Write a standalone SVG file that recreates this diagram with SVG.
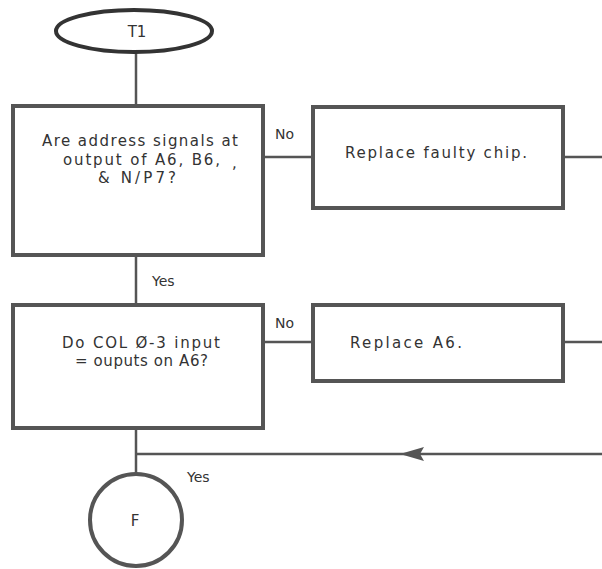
<svg xmlns="http://www.w3.org/2000/svg" width="602" height="569" viewBox="0 0 602 569">
<style>
.box{fill:#fff;stroke:#555;stroke-width:4}
.ln{fill:none;stroke:#555;stroke-width:2.5}
.t{font-family:"DejaVu Sans","Liberation Sans",sans-serif;font-size:15px;fill:#333}
.l{font-size:14px}
.c{text-anchor:middle}
</style>
<g id="connectors">
<line class="ln" x1="136" y1="53" x2="136" y2="106"/>
<line class="ln" x1="136" y1="255" x2="136" y2="305"/>
<line class="ln" x1="263" y1="157" x2="313" y2="157"/>
<line class="ln" x1="563" y1="157" x2="602" y2="157"/>
<line class="ln" x1="263" y1="342" x2="313" y2="342"/>
<line class="ln" x1="563" y1="342" x2="602" y2="342"/>
<line class="ln" x1="136" y1="428" x2="136" y2="474"/>
<line class="ln" x1="602" y1="454" x2="136" y2="454"/>
<path d="M424,447 L400,454 L424,461 L420,454 Z" fill="#555"/>
<text class="t l" x="275" y="139">No</text>
<text class="t l" x="152" y="286">Yes</text>
<text class="t l" x="275" y="328">No</text>
<text class="t l" x="187" y="482">Yes</text>
</g>
<g id="T1">
<ellipse cx="134" cy="31" rx="78" ry="21" fill="#fff" stroke="#333" stroke-width="4"/>
<text class="t c" x="137" y="37" font-size="13">T1</text>
</g>
<g id="q1">
<rect class="box" x="13" y="106" width="250" height="149"/>
<text class="t" x="42" y="146" textLength="196" lengthAdjust="spacing">Are address signals at</text>
<text class="t" x="63" y="165" textLength="157" lengthAdjust="spacing">output of A6, B6,</text>
<text class="t" x="232" y="168" font-size="11">,</text>
<text class="t" x="98" y="183" textLength="78" lengthAdjust="spacing">&amp; N/P7?</text>
</g>
<g id="r1">
<rect class="box" x="313" y="107" width="250" height="101"/>
<text class="t" x="345" y="158" font-size="16" textLength="182" lengthAdjust="spacing">Replace faulty chip.</text>
</g>
<g id="q2">
<rect class="box" x="13" y="305" width="250" height="123"/>
<text class="t" x="62" y="348" font-size="14" textLength="158" lengthAdjust="spacing">Do COL Ø-3 input</text>
<text class="t" x="75" y="366" font-size="14" textLength="133" lengthAdjust="spacing">= ouputs on A6?</text>
</g>
<g id="r2">
<rect class="box" x="313" y="305" width="250" height="76"/>
<text class="t" x="350" y="348" font-size="16" textLength="112" lengthAdjust="spacing">Replace A6.</text>
</g>
<g id="F">
<circle cx="136" cy="520" r="46" fill="#fff" stroke="#555" stroke-width="4"/>
<text class="t c" x="135" y="526" font-size="14">F</text>
</g>
</svg>
